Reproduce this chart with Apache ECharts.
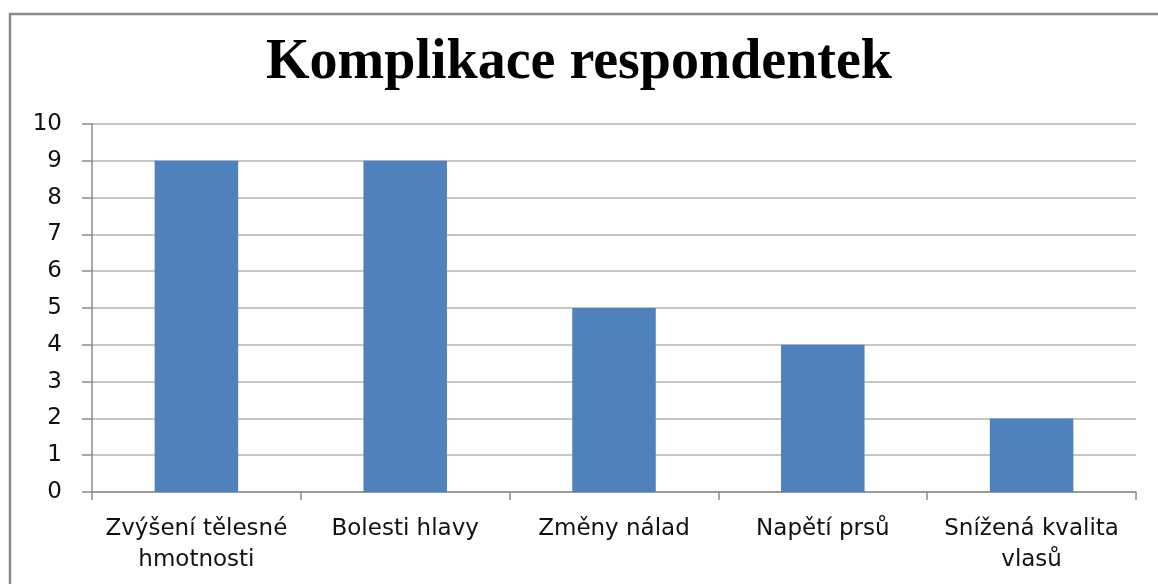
<!DOCTYPE html>
<html>
<head>
<meta charset="utf-8">
<script src="https://cdn.jsdelivr.net/npm/echarts@6/dist/echarts.min.js"></script>
<style>
  html, body { margin: 0; padding: 0; background: #fff; }
  #chart { width: 1158px; height: 584px; }
</style>
</head>
<body>
<div id="chart"></div>
<script>
// data
const categories = ['Zvýšení tělesné\nhmotnosti', 'Bolesti hlavy', 'Změny nálad', 'Napětí prsů', 'Snížená kvalita\nvlasů'];
const counts = [9, 9, 5, 4, 2];

const chart = echarts.init(document.getElementById('chart'), null, { renderer: 'canvas' });

chart.setOption({
  animation: false,
  backgroundColor: '#fff',
  title: {
    text: 'Komplikace respondentek',
    left: 'center',
    top: 31,
    textStyle: {
      fontFamily: 'Liberation Serif',
      fontWeight: 'bold',
      fontSize: 56,
      color: '#000'
    }
  },
  // outer chart border (cut off at right and bottom in the original)
  graphic: [{
    type: 'rect',
    shape: { x: 10, y: 14, width: 1200, height: 640 },
    style: { fill: 'none', stroke: '#8a8a8a', lineWidth: 2.5 },
    silent: true
  }],
  grid: { left: 92, right: 22, top: 124, bottom: 92 },
  xAxis: {
    type: 'category',
    data: categories,
    axisLine: { lineStyle: { color: '#8c8c8c', width: 1.5 } },
    axisTick: { show: true, length: 8, lineStyle: { color: '#8c8c8c', width: 1.5 } },
    axisLabel: {
      color: '#111',
      fontFamily: 'DejaVu Sans',
      fontSize: 23,
      lineHeight: 31,
      margin: 22,
      interval: 0
    }
  },
  yAxis: {
    type: 'value',
    min: 0,
    max: 10,
    interval: 1,
    axisLine: { show: true, lineStyle: { color: '#8c8c8c', width: 1.5 } },
    axisTick: { show: true, length: 10, lineStyle: { color: '#8c8c8c', width: 1.5 } },
    splitLine: { lineStyle: { color: '#b3b3b3', width: 1.5 } },
    axisLabel: {
      color: '#111',
      fontFamily: 'DejaVu Sans',
      fontSize: 23,
      margin: 30
    }
  },
  series: [{
    type: 'bar',
    data: counts,
    barWidth: '40%',
    itemStyle: { color: '#4f81bd' }
  }]
});
</script>
</body>
</html>
